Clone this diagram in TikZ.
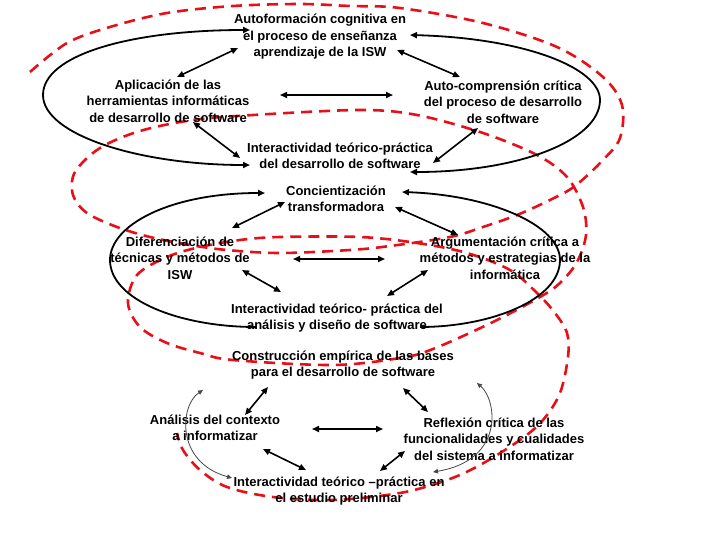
\documentclass[tikz,border=0pt]{standalone}
\usepackage{fontspec}
\setmainfont{Liberation Sans}
\usetikzlibrary{arrows.meta}
\definecolor{spiralred}{RGB}{232,16,24}
\definecolor{thingray}{RGB}{70,70,70}
\begin{document}
\begin{tikzpicture}[x=1pt,y=-1pt,
  txt/.style={font=\fontsize{13}{16.5}\selectfont\bfseries, align=center, inner sep=0pt},
  dbl/.style={line width=1.6pt, {Triangle[length=7pt,width=6pt]}-{Triangle[length=7pt,width=6pt]}},
  loopline/.style={line width=1.8pt, {Triangle[length=7pt,width=6pt]}-{Triangle[length=7pt,width=6pt]}},
  halfloop/.style={line width=1.8pt, {Triangle[length=7pt,width=6pt]}-},
  thinloop/.style={line width=0.8pt, draw=thingray, {Triangle[length=5pt,width=4.5pt]}-{Triangle[length=5pt,width=4.5pt]}},
  spiral/.style={draw=spiralred, line width=2.6pt, dash pattern=on 11pt off 7pt}]
\useasboundingbox (0,0) rectangle (707,539);

% spiral
\draw[spiral] plot[smooth, tension=0.55] coordinates {
 (30,72) (67,43) (110,27) (167,13) (233,6) (300,4) (350,6) (400,8) (483,23) (557,47) (603,77) (622,105) (620,138) (603,160) (575,186) (550,200) (517,215) (483,227) (450,237) (390,246) (350,250) (280,253) (227,250) (190,245) (150,237) (117,227) (87,213) (73,195) (75,172) (100,148) (140,131) (193,120) (253,115) (360,110) (417,115) (483,133) (537,155) (567,177) (583,207) (586,235) (577,262) (560,283) (540,297) (493,322) (433,349) (400,358) (333,365) (233,360) (200,353) (167,343) (140,327) (128,303) (137,275) (167,257) (200,247) (240,240) (280,237) (360,237) (417,243) (467,253) (510,270) (537,293) (555,313) (567,333) (568,357) (560,393) (543,420) (520,440) (480,465) (447,480) (400,493) (333,500) (273,497) (227,487) (200,470) (183,450) (177,433)};

% text nodes
\node[txt] (auto) at (320,37) {Autoformación cognitiva en\\el proceso de enseñanza\\aprendizaje de la ISW};
\node[txt] (apl) at (168,101) {Aplicación de las\\herramientas informáticas\\de desarrollo de software};
\node[txt] (comp) at (503,102) {Auto-comprensión crítica\\del proceso de desarrollo\\de software};
\node[txt] (int1) at (340,156) {Interactividad teórico-práctica\\del desarrollo de software};
\node[txt] (conc) at (336,199) {Concientización\\transformadora};
\node[txt] (dif) at (180,258) {Diferenciación de\\técnicas y métodos de\\ISW};
\node[txt] (arg) at (505,258) {Argumentación crítica a\\métodos y estrategias de la\\informática};
\node[txt] (int2) at (337,318) {Interactividad teórico- práctica del\\análisis y diseño de software};
\node[txt] (cons) at (343,365) {Construcción empírica de las bases\\para el desarrollo de software};
\node[txt] (ana) at (215,428) {Análisis del contexto\\a informatizar};
\node[txt] (refl) at (494,439) {Reflexión crítica de las\\funcionalidades y cualidades\\del sistema a informatizar};
\node[txt] (int3) at (339,491) {Interactividad teórico –práctica en\\el estudio preliminar};

% arrow end points (loop 1)
\coordinate (l1a) at (250,30);  \coordinate (l1b) at (250,165);
\coordinate (r1a) at (410,35);  \coordinate (r1b) at (410,172);
\coordinate (p1) at (238,48);   \coordinate (p2) at (177,77);
\coordinate (p3) at (397,50);   \coordinate (p4) at (460,77);
\coordinate (p5) at (280,95);   \coordinate (p6) at (393,95);
\coordinate (p7) at (193,122);  \coordinate (p8) at (240,158);
\coordinate (p9) at (478,128);  \coordinate (p10) at (433,163);
% loop 2
\coordinate (l2a) at (265,193); \coordinate (l2b) at (256,327);
\coordinate (r2a) at (402,192); \coordinate (r2b) at (420,327);
\coordinate (q1) at (285,202);  \coordinate (q2) at (232,228);
\coordinate (q3) at (395,207);  \coordinate (q4) at (458,235);
\coordinate (q5) at (293,259);  \coordinate (q6) at (385,259);
\coordinate (q7) at (242,270);  \coordinate (q8) at (281,292);
\coordinate (q9) at (428,270);  \coordinate (q10) at (387,296);
% loop 3
\coordinate (l3a) at (203,390); \coordinate (l3b) at (232,478);
\coordinate (r3a) at (477,383); \coordinate (r3b) at (433,472);
\coordinate (s1) at (268,387);  \coordinate (s2) at (245,415);
\coordinate (s3) at (403,388);  \coordinate (s4) at (428,412);
\coordinate (s5) at (312,429);  \coordinate (s6) at (383,429);
\coordinate (s7) at (263,449);  \coordinate (s8) at (306,470);
\coordinate (s9) at (405,451);  \coordinate (s10) at (380,471);

% loop 1 arcs
\draw[loopline] (l1a) .. controls (130,30) and (43,55) .. (43,95) .. controls (43,135) and (140,165) .. (l1b);
\draw[loopline] (r1a) .. controls (525,38) and (600,68) .. (600,100) .. controls (600,140) and (520,172) .. (r1b);
\draw[dbl] (p1) -- (p2);
\draw[dbl] (p3) -- (p4);
\draw[dbl] (p5) -- (p6);
\draw[dbl] (p7) -- (p8);
\draw[dbl] (p9) -- (p10);

% loop 2 arcs
\draw[halfloop] (l2a) .. controls (170,193) and (110,225) .. (110,260) .. controls (110,300) and (180,327) .. (l2b);
\draw[halfloop] (r2a) .. controls (490,195) and (560,225) .. (560,260) .. controls (560,300) and (490,327) .. (r2b);
\draw[dbl] (q1) -- (q2);
\draw[dbl] (q3) -- (q4);
\draw[dbl] (q5) -- (q6);
\draw[dbl] (q7) -- (q8);
\draw[dbl] (q9) -- (q10);

% loop 3 arcs
\draw[thinloop] (l3a) .. controls (180,405) and (175,462) .. (l3b);
\draw[thinloop] (r3a) .. controls (497,400) and (505,460) .. (r3b);
\draw[dbl] (s1) -- (s2);
\draw[dbl] (s3) -- (s4);
\draw[dbl] (s5) -- (s6);
\draw[dbl] (s7) -- (s8);
\draw[dbl] (s9) -- (s10);
\end{tikzpicture}
\end{document}
